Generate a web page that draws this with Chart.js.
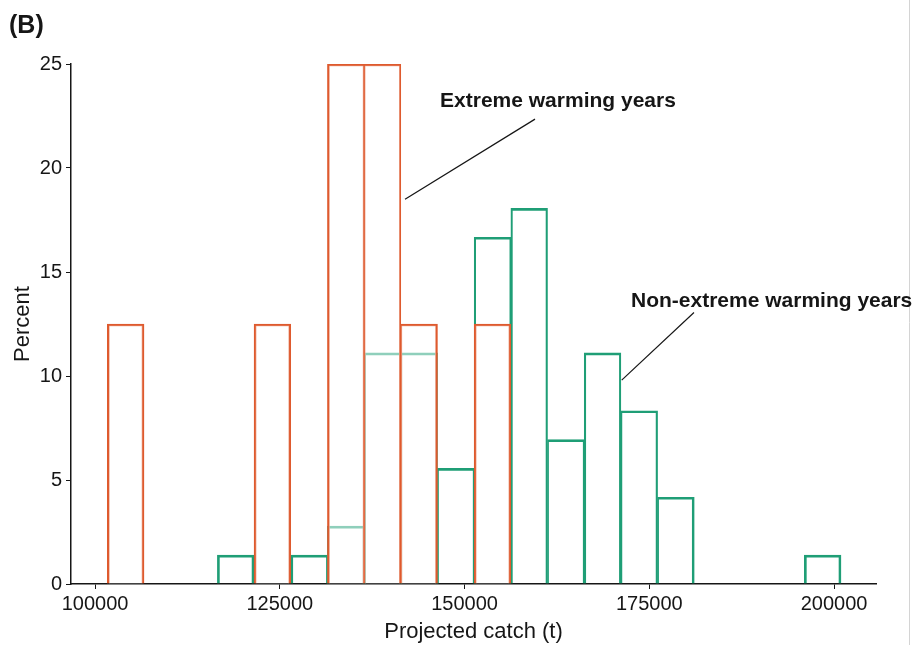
<!DOCTYPE html>
<html>
<head>
<meta charset="utf-8">
<script src="https://cdn.jsdelivr.net/npm/chart.js@4.4.1/dist/chart.umd.min.js"></script>
<style>
  html, body { margin: 0; padding: 0; background: #fff; }
</style>
</head>
<body>
<canvas id="chart" width="914" height="645"></canvas>
<script>
// Histogram bins (bin centre, tonnes)
const binCenters = [104148, 109112, 114076, 119040, 124004, 128968, 133932, 138896, 143860, 148824,
                    153788, 158752, 163716, 168680, 173644, 178608, 183572, 188536, 193500, 198464];

// Percent of years in each bin
const extremePct = [12.5, 0, 0, 0, 12.5, 0, 25, 25, 12.5, 0,
                    12.5, 0, 0, 0, 0, 0, 0, 0, 0, 0];
const nonExtremePct = [0, 0, 0, 1.39, 0, 1.39, 2.78, 11.11, 11.11, 5.56,
                       16.67, 18.06, 6.94, 11.11, 8.33, 4.17, 0, 0, 0, 1.39];

// Axis ticks
const xTickValues = [100000, 125000, 150000, 175000, 200000];
const yTickValues = [0, 5, 10, 15, 20, 25];

// Leader lines and their labels (data units)
const extremeLeader = [{x: 141950, y: 18.5}, {x: 159540, y: 22.35}];
const nonExtremeLeader = [{x: 171270, y: 9.8}, {x: 181050, y: 13.05}];
const seriesLabels = [
  {text: 'Extreme warming years', x: 146690, y: 22.95},
  {text: 'Non-extreme warming years', x: 172530, y: 13.33}
];

const red = '#de5a2e';
const green = '#1f9e76';
const ink = '#161616';
const fontFamily = '"Liberation Sans", Arial, Helvetica, sans-serif';

// side border width: full where the bar stands alone, split where it shares an edge
function sideWidth(own, neighbour) {
  if (neighbour <= 0) return 2;
  return neighbour >= own ? 1 : 1.5;
}

function edgeWidths(values) {
  return ctx => {
    const i = ctx.dataIndex;
    const v = values[i];
    const prev = i > 0 ? values[i - 1] : 0;
    const next = i < values.length - 1 ? values[i + 1] : 0;
    return {top: 2, bottom: 0, left: sideWidth(v, prev), right: sideWidth(v, next)};
  };
}

function toPoints(values) {
  return binCenters.map((c, i) => ({x: c, y: values[i]}));
}

// Text labels, panel letter and the thin frame line on the right
const annotate = {
  id: 'annotate',
  afterDatasetsDraw(chart) {
    const {ctx, scales: {x, y}} = chart;
    ctx.save();
    ctx.strokeStyle = '#d4d4d4';
    ctx.lineWidth = 1;
    ctx.beginPath();
    ctx.moveTo(909.5, 0);
    ctx.lineTo(909.5, chart.height);
    ctx.stroke();

    ctx.fillStyle = ink;
    ctx.textBaseline = 'alphabetic';
    ctx.textAlign = 'left';
    ctx.font = 'bold 21px ' + fontFamily;
    seriesLabels.forEach(l => {
      ctx.fillText(l.text, x.getPixelForValue(l.x), y.getPixelForValue(l.y));
    });
    ctx.font = 'bold 25px ' + fontFamily;
    ctx.fillText('(B)', 9, 33);
    ctx.restore();
  }
};

const chart = new Chart(document.getElementById('chart'), {
  type: 'bar',
  data: {
    datasets: [
      {
        type: 'line',
        data: extremeLeader,
        borderColor: ink,
        borderWidth: 1.2,
        pointRadius: 0
      },
      {
        type: 'line',
        data: nonExtremeLeader,
        borderColor: ink,
        borderWidth: 1.2,
        pointRadius: 0
      },
      {
        label: 'Extreme warming years',
        data: toPoints(extremePct),
        backgroundColor: 'rgba(255,255,255,0.5)',
        borderColor: red,
        borderWidth: edgeWidths(extremePct),
        borderSkipped: 'start'
      },
      {
        label: 'Non-extreme warming years',
        data: toPoints(nonExtremePct),
        backgroundColor: 'rgba(255,255,255,0)',
        borderColor: green,
        borderWidth: edgeWidths(nonExtremePct),
        borderSkipped: 'start'
      }
    ]
  },
  options: {
    responsive: false,
    animation: false,
    grouped: false,
    barPercentage: 1,
    categoryPercentage: 1,
    layout: { padding: {left: 0, right: 38, top: 64, bottom: 0} },
    plugins: {
      legend: { display: false },
      tooltip: { enabled: false }
    },
    scales: {
      x: {
        type: 'linear',
        offset: false,
        min: 96750,
        max: 205680,
        afterBuildTicks: axis => { axis.ticks = xTickValues.map(v => ({value: v})); },
        afterFit: axis => { axis.height = 61; },
        ticks: {
          color: ink,
          font: {family: fontFamily, size: 20},
          padding: 3,
          maxRotation: 0,
          callback: v => String(v)
        },
        grid: { offset: false, drawOnChartArea: false, drawTicks: true, tickLength: 5, color: ink },
        border: { display: true, color: ink, width: 1.5 },
        title: {
          display: true,
          text: 'Projected catch (t)',
          color: ink,
          font: {family: fontFamily, size: 22},
          padding: {top: 0, bottom: 0}
        }
      },
      y: {
        min: 0,
        max: 25,
        afterBuildTicks: axis => { axis.ticks = yTickValues.map(v => ({value: v})); },
        afterFit: axis => { axis.width = 71; },
        ticks: {
          color: ink,
          font: {family: fontFamily, size: 20},
          padding: 4
        },
        grid: { drawOnChartArea: false, drawTicks: true, tickLength: 5, color: ink },
        border: { display: true, color: ink, width: 1.5 },
        title: {
          display: true,
          text: 'Percent',
          color: ink,
          font: {family: fontFamily, size: 22},
          padding: {top: 10, bottom: 0}
        }
      }
    }
  },
  plugins: [annotate]
});
</script>
</body>
</html>
